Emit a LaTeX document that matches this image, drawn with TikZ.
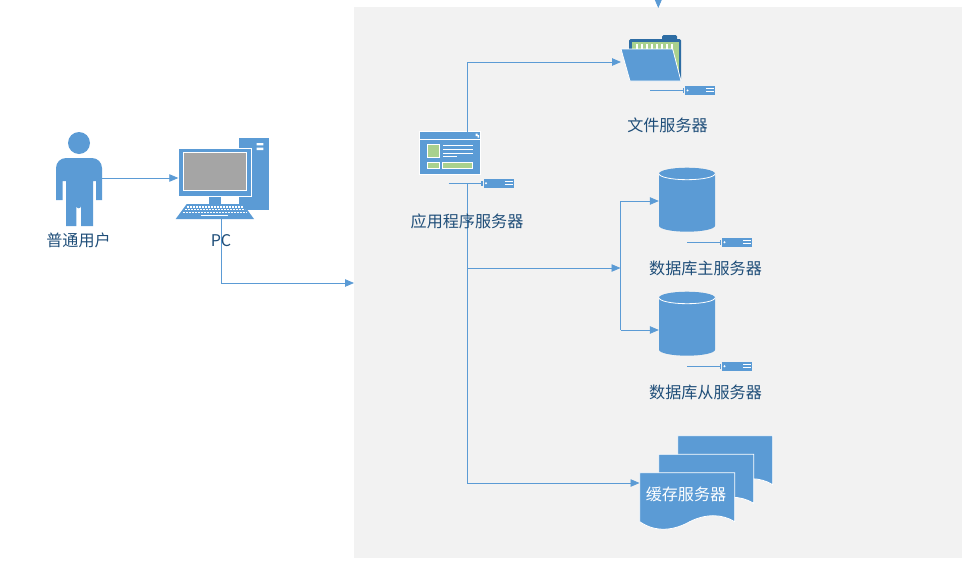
\documentclass[tikz,border=0pt]{standalone}
\usepackage{fontspec}
\setmainfont{Noto Sans CJK SC}
\usetikzlibrary{arrows.meta,positioning}
\definecolor{iconblue}{HTML}{5B9BD5}
\definecolor{zonegray}{HTML}{F2F2F2}
\definecolor{labelblue}{HTML}{1F4E79}
\definecolor{leafgreen}{HTML}{A9D18E}
\definecolor{darkblue}{HTML}{2E6DA4}
\definecolor{screengray}{HTML}{A5A5A5}
\tikzset{
  link/.style={draw=iconblue,line width=.8pt,-{Triangle[length=9pt,width=7.5pt]}},
  plain link/.style={draw=iconblue,line width=.8pt},
  lbl/.style={text=labelblue,font=\fontsize{16.1}{18}\selectfont,inner sep=0pt},
  anchorbox/.style={inner sep=0pt,minimum width=#1},
  blue fill/.style={fill=iconblue,draw=none},
  white edge/.style={fill=iconblue,draw=white,line width=.8pt},
  green box/.style={fill=leafgreen,draw=white,line width=.8pt},
  wline/.style={draw=white,line width=.8pt},
  srvicon/.pic={
    \draw[iconblue,line width=.8pt] (-35,0) -- (-2,0);
    \fill[iconblue] (-2.4,-2.6) rectangle (-1,2.6);
    \fill[iconblue] (0,-4.3) rectangle (30,4.3);
    \fill[white] (2.5,0) circle (1.1);
    \draw[wline] (21,-1.6) -- (29,-1.6) (21,1.4) -- (29,1.4);
  },
  drumicon/.pic={
    \path[blue fill] (-28,0) -- (-28,52) arc[start angle=180,end angle=0,x radius=28,y radius=6] -- (28,0) arc[start angle=360,end angle=180,x radius=28,y radius=6] -- cycle;
    \draw[wline] (-28,0) arc[start angle=180,end angle=0,x radius=28,y radius=6];
  },
  sheeticon/.pic={
    \path[white edge] (0,0) -- (95,0) -- (95,49) .. controls (82,41) and (66,41) .. (50,49) .. controls (34,58) and (16,60) .. (0,49) -- cycle;
  }
}
\begin{document}
\begin{tikzpicture}[x=1pt,y=-1pt]
\useasboundingbox (0,0) rectangle (975,573);
% zone
\node[fill=zonegray,inner sep=0pt,minimum width=608pt,minimum height=551pt] (zone) at (658,282.5) {};

% user
\node[anchorbox=46pt,minimum height=96pt] (user) at (79,178) {};
\fill[iconblue] (79,143) circle (11);
\path[blue fill] (56,200) -- (56,168) arc[start angle=180,end angle=270,radius=10] -- (92,158) arc[start angle=270,end angle=360,radius=10] -- (102,200) -- (96,200) -- (96,181) -- (93,181) -- (93,226) -- (81,226) -- (81,206) arc[start angle=0,end angle=180,radius=2.3] -- (76.4,226) -- (66,226) -- (66,181) -- (62.7,181) -- (62.7,200) -- cycle;
\node[lbl] (userlabel) at (78.5,240.6) {普通用户};

% pc
\fill[iconblue] (239,137.7) rectangle (269,210);
\fill[white] (256.7,143) rectangle (263.3,145.4) (256.7,147.6) rectangle (263.3,150);
\node[white edge,minimum width=73pt,minimum height=48.5pt,inner sep=0pt] (monitor) at (215.2,172.2) {};
\node[fill=screengray,draw=white,line width=.8pt,minimum width=63.5pt,minimum height=38.5pt,inner sep=0pt] (screen) at (215,171.5) {};
\fill[iconblue] (209,197) rectangle (221,204);
\path[blue fill] (186.7,204) -- (243,204) -- (254,219) -- (175.7,219) -- cycle;
\draw[white,line width=1.1pt,dash pattern=on 2pt off 1pt] (187,207) -- (243,207) (185,209.8) -- (245,209.8) (183,212.4) -- (247,212.4);
\draw[white,line width=1pt] (201,215.3) -- (228,215.3);
\coordinate (pcbase) at (221,219);

% application server
\node[white edge,minimum width=61pt,minimum height=42.6pt,inner sep=0pt] (app) at (449.8,153) {};
\draw[wline] (419.3,139.3) -- (480.3,139.3);
\fill[white] (475.5,133.5) rectangle (477.5,136) (477.5,135) rectangle (479,137.5);
\node[green box,minimum width=12.4pt,minimum height=13.4pt,inner sep=0pt] (appgreenA) at (433.3,151) {};
\node[green box,minimum width=12.4pt,minimum height=6.4pt,inner sep=0pt] (appgreenB) at (433.3,165.5) {};
\node[green box,minimum width=30.4pt,minimum height=6.4pt,inner sep=0pt] (appgreenC) at (457.5,165.5) {};
\draw[wline] (443,145.3) -- (472.7,145.3) (443,149.3) -- (472.7,149.3) (443,153.3) -- (472.7,153.3) (443,156.3) -- (456.7,156.3);
\coordinate (apptop) at (467,131.5);
\coordinate (appbase) at (467,183.3);
\pic at (483.5,183.3) {srvicon};

% file server
\node[anchorbox=52pt,minimum height=46pt] (folder) at (651,58) {};
\fill[darkblue,rounded corners=1.5pt] (662,35) rectangle (677,42);
\fill[darkblue,rounded corners=1.5pt] (629,39) rectangle (681,80.7);
\fill[leafgreen] (631.7,41.7) rectangle (679.3,80);
\foreach \tx in {636,641,646,651,656,661,666,671}{\fill[white] (\tx,43.7) rectangle (\tx+2.4,49);}
\path[white edge] (621,49) -- (672.7,49) -- (681,81) -- (630,81) -- cycle;
\node[lbl] (filelabel) at (667.5,125.6) {文件服务器};
\pic at (685,90.4) {srvicon};
\coordinate (filein) at (621,62);
\coordinate (zonetopfree) at (658.3,-6);

% database master
\node[anchorbox=56pt,minimum height=64pt] (dbmaster) at (687,199.7) {};
\pic at (687,173.7) {drumicon};
\node[lbl] (masterlabel) at (705.5,268.6) {数据库主服务器};
\pic at (722,242.3) {srvicon};

% database slave
\node[anchorbox=56pt,minimum height=64pt] (dbslave) at (687,323.7) {};
\pic at (687,297.7) {drumicon};
\node[lbl] (slavelabel) at (705.5,392.6) {数据库从服务器};
\pic at (722,366.3) {srvicon};

% cache server
\pic at (677.7,435.7) {sheeticon};
\pic at (658.7,454.3) {sheeticon};
\pic at (639.7,472.7) {sheeticon};
\node[anchorbox=95pt,minimum height=56pt] (cache) at (687.2,500.7) {};

% connectors
\coordinate (zoneentry) at (354,283);
\draw[link] (user.east) -- (user.east -| monitor.west);
\draw[link] (pcbase) |- (zoneentry);
\draw[link] (zonetopfree) -- (658.3,8);
\draw[link] (apptop) |- (filein);
\coordinate (cachein) at (467,483);
\draw[plain link] (appbase) -- (cachein);
\coordinate (split) at (620.5,268);
\draw[link] (appbase |- split) -- (split);
\draw[plain link] (620.5,201) -- (620.5,330);
\draw[link] (620.5,201) -- (dbmaster.west |- 0,201);
\draw[link] (620.5,330) -- (dbslave.west |- 0,330);
\draw[link] (cachein) -- (cache.west |- cachein);

% labels over the connectors
\node[lbl] (pclabel) at (221,240.6) {PC};
\node[lbl] (applabel) at (467,221.6) {应用程序服务器};
\node[text=white,font=\fontsize{16.1}{18}\selectfont,inner sep=0pt] (cachelabel) at (686,494.6) {缓存服务器};
\end{tikzpicture}
\end{document}
